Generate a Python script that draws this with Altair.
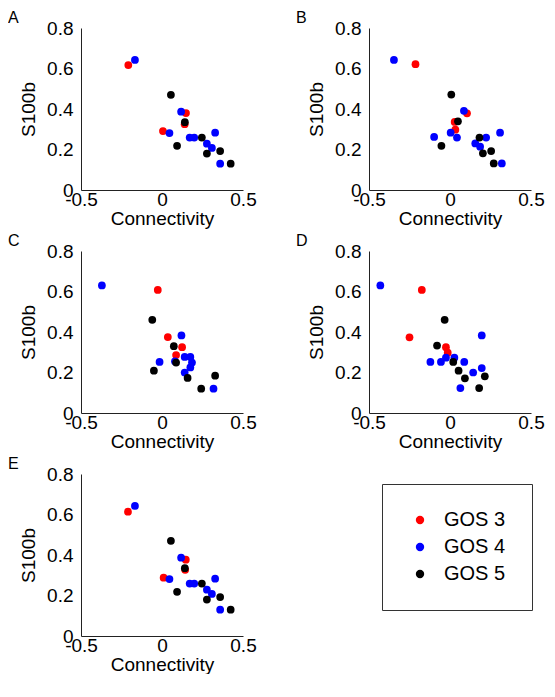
import altair as alt
import pandas as pd

groups = ["GOS 3", "GOS 4", "GOS 5"]
colors = ["#ff0000", "#0000ff", "#000000"]
x_ticks = [-0.5, 0, 0.5]
y_ticks = [0, 0.2, 0.4, 0.6, 0.8]

R, B, K = "GOS 3", "GOS 4", "GOS 5"

# Panel A
A_x = [-0.208, 0.006, 0.148, 0.140,
       -0.167, 0.046, 0.118, 0.171, 0.199, 0.328, 0.277, 0.308, 0.359,
       0.055, 0.093, 0.141, 0.246, 0.277, 0.359, 0.424]
A_y = [0.617, 0.291, 0.380, 0.325,
       0.642, 0.281, 0.387, 0.259, 0.259, 0.283, 0.229, 0.208, 0.130,
       0.470, 0.218, 0.335, 0.259, 0.180, 0.192, 0.130]
A_g = [R] * 4 + [B] * 9 + [K] * 7

# Panel B
B_x = [-0.213, 0.029, 0.033, 0.105,
       -0.346, -0.098, 0.004, 0.043, 0.086, 0.156, 0.186, 0.223, 0.309, 0.320,
       0.008, -0.053, 0.049, 0.182, 0.203, 0.254, 0.270]
B_y = [0.621, 0.336, 0.298, 0.379,
       0.642, 0.262, 0.283, 0.259, 0.391, 0.230, 0.214, 0.259, 0.283, 0.131,
       0.471, 0.218, 0.339, 0.259, 0.181, 0.192, 0.131]
B_g = [R] * 4 + [B] * 10 + [K] * 7

# Panel C
C_x = [-0.026, 0.036, 0.124, 0.087,
       -0.371, 0.120, -0.015, 0.080, 0.140, 0.175, 0.185, 0.175, 0.140, 0.318,
       -0.060, 0.073, 0.087, -0.050, 0.158, 0.242, 0.328]
C_y = [0.608, 0.375, 0.325, 0.286,
       0.630, 0.383, 0.252, 0.255, 0.277, 0.277, 0.249, 0.225, 0.200, 0.120,
       0.460, 0.330, 0.249, 0.209, 0.173, 0.120, 0.184]
C_g = [R] * 4 + [B] * 10 + [K] * 7

# Panel D
D_x = [-0.174, -0.250, -0.025, -0.014,
       -0.430, 0.196, -0.121, -0.056, -0.025, 0.027, 0.088, 0.143, 0.196, 0.064,
       -0.033, -0.080, 0.020, 0.053, 0.215, 0.092, 0.180]
D_y = [0.608, 0.374, 0.325, 0.298,
       0.630, 0.383, 0.252, 0.252, 0.273, 0.273, 0.252, 0.200, 0.222, 0.123,
       0.460, 0.333, 0.252, 0.209, 0.181, 0.171, 0.123]
D_g = [R] * 4 + [B] * 10 + [K] * 7

# Panel E
E_x = [-0.210, 0.010, 0.147, 0.143,
       -0.167, 0.046, 0.118, 0.171, 0.199, 0.328, 0.277, 0.308, 0.359,
       0.055, 0.093, 0.141, 0.246, 0.277, 0.359, 0.424]
E_y = [0.614, 0.288, 0.377, 0.327,
       0.642, 0.281, 0.387, 0.259, 0.259, 0.283, 0.229, 0.208, 0.130,
       0.470, 0.218, 0.335, 0.259, 0.180, 0.192, 0.130]
E_g = [R] * 4 + [B] * 9 + [K] * 7

FONT = "Liberation Sans"


def panel(letter, xs, ys, gs):
    df = pd.DataFrame({"Connectivity": xs, "S100b": ys, "group": gs})
    return alt.Chart(
        df,
        title=alt.TitleParams(letter, anchor="start", frame="group", dx=-73, dy=13,
                              fontSize=16, fontWeight="normal", offset=6,
                              font=FONT, color="black"),
    ).mark_circle(size=60, opacity=1).encode(
        x=alt.X("Connectivity:Q",
                scale=alt.Scale(domain=[-0.5, 0.5], nice=False, zero=False),
                axis=alt.Axis(values=x_ticks, title="Connectivity",
                              labelExpr="replace(format(datum.value, '.1~f'), '\u2212', '-')",
                              labelPadding=0, titlePadding=0)),
        y=alt.Y("S100b:Q",
                scale=alt.Scale(domain=[0, 0.8], nice=False, zero=False),
                axis=alt.Axis(values=y_ticks, title="S100b",
                              labelExpr="format(datum.value, '.1~f')",
                              labelPadding=8, titlePadding=8)),
        color=alt.Color("group:N",
                        scale=alt.Scale(domain=groups, range=colors),
                        legend=alt.Legend(title=None, orient="none",
                                          legendX=301, legendY=456,
                                          strokeColor="#333", fillColor="white",
                                          padding=26, symbolOffset=2,
                                          symbolType="circle",
                                          symbolSize=70, labelFontSize=20,
                                          labelFont=FONT, labelColor="black",
                                          labelOffset=14, rowPadding=7)),
    ).properties(width=162, height=162)


chart = alt.concat(
    panel("A", A_x, A_y, A_g),
    panel("B", B_x, B_y, B_g),
    panel("C", C_x, C_y, C_g),
    panel("D", D_x, D_y, D_g),
    panel("E", E_x, E_y, E_g),
    columns=2,
    spacing=alt.RowColnumber(row=61, column=126),
    bounds="flush",
).properties(
    padding={"left": 0, "top": 2, "right": 0, "bottom": 0}
).configure_view(
    stroke=None
).configure_axis(
    domainColor="#222",
    domainWidth=1,
    ticks=False,
    tickSize=0,
    grid=False,
    labelFont=FONT,
    labelFontSize=19,
    labelColor="black",
    labelFlush=False,
    labelOverlap=False,
    titleFont=FONT,
    titleFontSize=19,
    titleFontWeight="normal",
    titleColor="black",
)

chart.save("out.html", embed_options={"renderer": "svg", "actions": False})
